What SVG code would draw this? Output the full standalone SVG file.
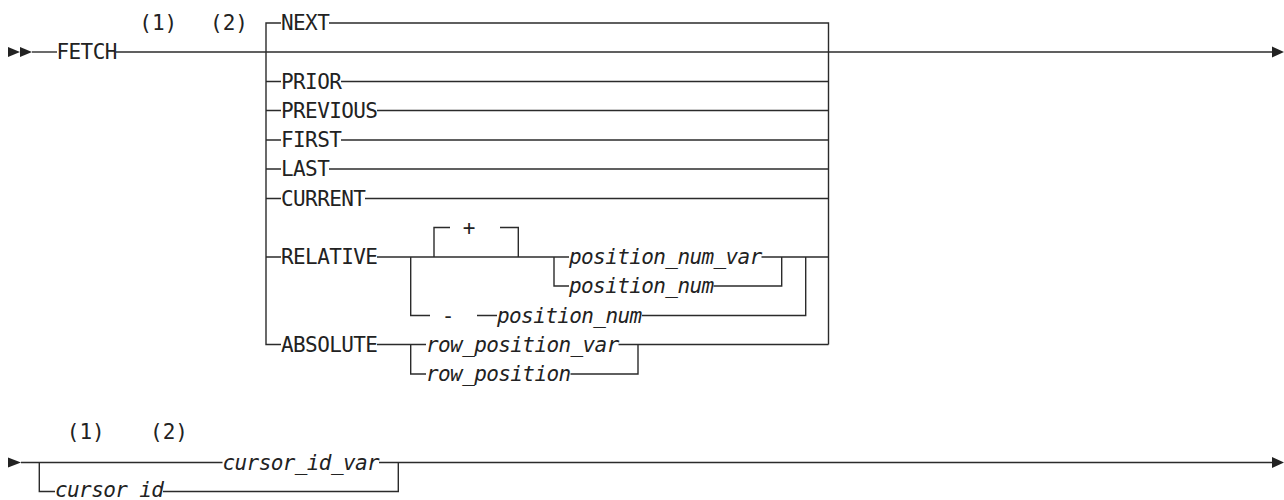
<svg xmlns="http://www.w3.org/2000/svg" width="1284" height="500" viewBox="0 0 1284 500">
<style>
  .ln { fill: none; stroke: #2b2b2b; stroke-width: 1.4; stroke-linejoin: miter; }
  .kw { font-family: "DejaVu Sans Mono", "Liberation Mono", monospace; font-size: 21px; letter-spacing: -0.6px; fill: #222; }
  .var { font-family: "DejaVu Sans Mono", "Liberation Mono", monospace; font-size: 21px; letter-spacing: -0.6px; font-style: italic; fill: #222; }
  .mid { text-anchor: middle; letter-spacing: 0; }
  .arr { fill: #222; }
</style>
<rect width="1284" height="500" fill="#ffffff"/>

<g id="connectors">
  <!-- start / end markers -->
  <polygon class="arr" points="8,47 20,52 8,57"/>
  <polygon class="arr" points="20,47 32,52 20,57"/>
  <polygon class="arr" points="1272,46.5 1284,52 1272,57.5"/>
  <polygon class="arr" points="8,457.5 21,462.5 8,467.5"/>
  <polygon class="arr" points="1272,457 1284,462.5 1272,468"/>

  <!-- top line -->
  <path class="ln" d="M32 52 H57"/>
  <path class="ln" d="M116 52 H1272"/>
  <!-- big choice sides -->
  <path class="ln" d="M281 23 H266 V344.5 H281"/>
  <path class="ln" d="M329 23 H828.5 V344.5"/>
  <path class="ln" d="M266 81.5 H281 M266 110.5 H281 M266 140 H281 M266 169 H281 M266 198.5 H281 M266 257 H281"/>
  <path class="ln" d="M341 81.5 H828.5"/>
  <path class="ln" d="M377 110.5 H828.5"/>
  <path class="ln" d="M341 140 H828.5"/>
  <path class="ln" d="M329 169 H828.5"/>
  <path class="ln" d="M365 198.5 H828.5"/>
  <!-- RELATIVE -->
  <path class="ln" d="M377 257 H569"/>
  <path class="ln" d="M434 257 V227.5 H450 M500 227.5 H518.3 V257"/>
  <path class="ln" d="M410.7 257 V315.5 H430 M477 315.5 H497 M642 315.5 H805.7 V257"/>
  <path class="ln" d="M554 257 V286 H569 M761.5 257 H828.5 M713.5 286 H781.7 V257"/>
  <!-- ABSOLUTE -->
  <path class="ln" d="M377 344.5 H426 M410.7 344.5 V374 H426 M618.5 344.5 H828.5 M570.5 374 H638 V344.5"/>

  <!-- bottom line -->
  <path class="ln" d="M21 462.5 H222.5 M39.3 462.5 V491.5 H55 M163 491.5 H398.3 V462.5 M379 462.5 H1272"/>
</g>

<g id="fetch"><text class="kw" x="56.5" y="59">FETCH</text></g>
<g id="note1-top"><text class="kw mid" x="158.3" y="30">(1)</text></g>
<g id="note2-top"><text class="kw mid" x="229" y="30">(2)</text></g>
<g id="next"><text class="kw" x="281" y="30">NEXT</text></g>
<g id="prior"><text class="kw" x="281" y="88.5">PRIOR</text></g>
<g id="previous"><text class="kw" x="281" y="117.5">PREVIOUS</text></g>
<g id="first"><text class="kw" x="281" y="147">FIRST</text></g>
<g id="last"><text class="kw" x="281" y="176">LAST</text></g>
<g id="current"><text class="kw" x="281" y="205.5">CURRENT</text></g>
<g id="relative"><text class="kw" x="281" y="264">RELATIVE</text></g>
<g id="plus"><text class="kw mid" x="469" y="234.5">+</text></g>
<g id="minus"><text class="kw mid" x="448" y="322.5">-</text></g>
<g id="position_num_var"><text class="var" x="569" y="264">position_num_var</text></g>
<g id="position_num_1"><text class="var" x="569" y="293">position_num</text></g>
<g id="position_num_2"><text class="var" x="497" y="322.5">position_num</text></g>
<g id="absolute"><text class="kw" x="281" y="351.5">ABSOLUTE</text></g>
<g id="row_position_var"><text class="var" x="426" y="351.5">row_position_var</text></g>
<g id="row_position"><text class="var" x="426" y="381">row_position</text></g>

<g id="note1-bottom"><text class="kw mid" x="85.8" y="439">(1)</text></g>
<g id="note2-bottom"><text class="kw mid" x="169" y="439">(2)</text></g>
<g id="cursor_id_var"><text class="var" x="222.5" y="469.5">cursor_id_var</text></g>
<g id="cursor_id"><text class="var" x="55" y="497">cursor_id</text></g>
</svg>
